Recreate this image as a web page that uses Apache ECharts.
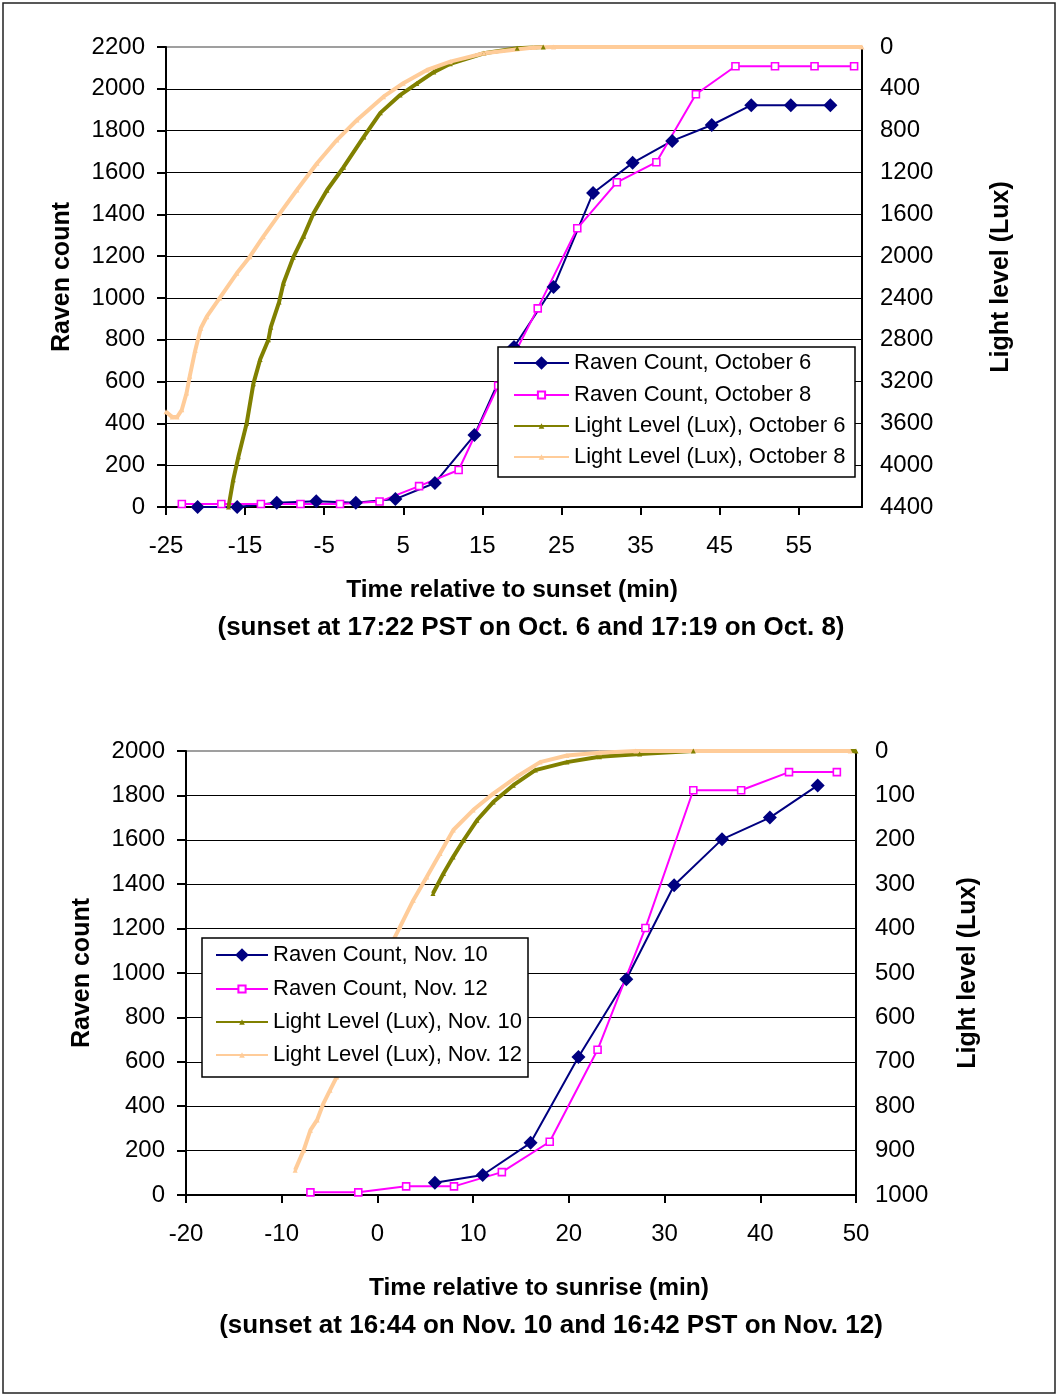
<!DOCTYPE html>
<html>
<head>
<meta charset="utf-8">
<script src="https://cdn.jsdelivr.net/npm/echarts@6/dist/echarts.min.js"></script>
<style>
html,body{margin:0;padding:0;background:#fff;}
#chart{width:1062px;height:1395px;}
</style>
</head>
<body>
<div id="chart"></div>
<script>
// ---------- Top chart (October, relative to sunset) ----------
const octTimes6 = [-21,-16,-11,-6,-1,4,9,14,19,24,29,34,39,44,49,54,59];
const ravenOct6 = [0,0,20,28,20,38,115,344,765,1052,1502,1646,1751,1827,1922,1922,1922];
const octTimes8 = [-23,-18,-13,-8,-3,2,7,12,17,22,27,32,37,42,47,52,57,62];
const ravenOct8 = [14,14,14,14,14,26,100,177,580,950,1333,1553,1649,1974,2108,2108,2108,2108];
const lightOct6Time = [-17.1,-16.5,-15.85,-14.8,-13.95,-13.1,-12.05,-11.75,-10.7,-10.15,-8.9,-7.6,-6.35,-4.65,-2.55,0.0,2.1,4.6,6.7,8.85,10.95,15.2,19.4,22.7];
const lightOct6 = [4400,4140,3920,3600,3220,2990,2800,2680,2440,2260,2010,1810,1590,1370,1150,860,630,460,350,240,160,60,12,0];
const lightOct8Time = [-25,-24.2,-23.6,-23,-22.4,-22,-21.3,-20.6,-19.85,-18.2,-16.05,-14.4,-12.7,-10.6,-8.45,-5.9,-3.4,-0.85,2.5,5.0,8.0,10.95,15.2,21.5,24,63];
const lightOct8 = [3490,3540,3540,3470,3310,3150,2900,2690,2580,2400,2165,2006,1814,1591,1368,1112,890,698,475,347,220,140,60,5,0,0];
const octLegendNames = ['Raven Count, October 6','Raven Count, October 8','Light Level (Lux), October 6','Light Level (Lux), October 8'];
const octXTitle = ['Time relative to sunset (min)', '(sunset at 17:22 PST on Oct. 6 and 17:19 on Oct. 8)'];

// ---------- Bottom chart (November) ----------
const novTimes10 = [6,11,16,21,26,31,36,41,46];
const ravenNov10 = [55,90,235,622,972,1395,1602,1700,1845];
const novTimes12 = [-7,-2,3,8,13,18,23,28,33,38,43,48];
const ravenNov12 = [12,12,39,39,103,240,654,1203,1823,1823,1905,1905];
const lightNov10Time = [5.8,6.9,7.9,9.0,10.4,12.1,14.2,16.5,19.8,23.2,27.4,33,50];
const lightNov10 = [321,276,239,201,156,115,77,43,25,13,7,0,0];
const lightNov12Time = [-8.6,-7.7,-7.0,-6.3,-5.65,-4.95,-4.25,1.66,2.36,3.75,5.15,6.54,7.93,10.0,12.1,14.55,17.0,19.8,23.2,27,49.4];
const lightNov12 = [944,899,854,831,794,764,734,426,396,336,284,231,178,133,96,58,25,10,4,0,0];
const novLegendNames = ['Raven Count, Nov. 10','Raven Count, Nov. 12','Light Level (Lux), Nov. 10','Light Level (Lux), Nov. 12'];
const novXTitle = ['Time relative to sunrise (min)', '(sunset at 16:44 on Nov. 10 and 16:42 PST on Nov. 12)'];

const FONT = '"Liberation Sans", Arial, sans-serif';
const NAVY = '#000080', MAGENTA = '#FF00FF', OLIVE = '#808000', PEACH = '#FFCC99';

function zip(xs, ys){ return xs.map((x,i)=>[x, ys[i]]); }
const plain = v => String(v);

const tickLabel = {fontSize:24, fontFamily:FONT, color:'#000', formatter:plain};
const nameStyle = {fontSize:25, fontWeight:'bold', fontFamily:FONT, color:'#000', lineHeight:38};
const blackLine = {show:true, onZero:false, lineStyle:{color:'#000', width:2}};
const outTick = len => ({show:true, inside:false, length:len, lineStyle:{color:'#000', width:2}});

function xTitleStyle(shiftA, shiftB){
  const base = {fontWeight:'bold', fontFamily:FONT, color:'#000', lineHeight:38};
  return Object.assign({}, base, {fontSize:25, rich:{
    a:Object.assign({}, base, {fontSize:24.5, padding:shiftA}),
    b:Object.assign({}, base, {fontSize:26, padding:shiftB})
  }});
}
const twoLine = t => '{a|' + t[0] + '}\n{b|' + t[1] + '}';

function ravenSeries(name, xi, yi, data, kind){
  if (kind === 'diamond') {
    return {name, type:'line', xAxisIndex:xi, yAxisIndex:yi, data, symbol:'diamond', symbolSize:14,
      lineStyle:{color:NAVY, width:2}, itemStyle:{color:NAVY}, z:3};
  }
  return {name, type:'line', xAxisIndex:xi, yAxisIndex:yi, data, symbol:'rect', symbolSize:7,
    lineStyle:{color:MAGENTA, width:2}, itemStyle:{color:'#fff', borderColor:MAGENTA, borderWidth:1.6}, z:3};
}
function lightSeries(name, xi, yi, data, color){
  return {name, type:'line', xAxisIndex:xi, yAxisIndex:yi, data, symbol:'triangle', symbolSize:5,
    lineStyle:{color, width:4}, itemStyle:{color}, z:4};
}

// one legend component per entry so each marker gets its own size
const iconHeights = [17, 9, 7, 7];
function legendSet(names, left, tops, itemWidth){
  return names.map((n, i) => ({
    orient:'vertical', left, top:tops[i] - Math.max(11, iconHeights[i]/2), padding:0,
    itemWidth, itemHeight:iconHeights[i], z:10,
    textStyle:{fontSize:22, fontFamily:FONT, color:'#000', lineHeight:22},
    data:[i >= 2 ? {name:n, lineStyle:{width:2}} : {name:n}]
  }));
}

const option = {
  animation:false,
  backgroundColor:'#fff',
  graphic:[
    {type:'rect', z:0, shape:{x:3,y:3,width:1052,height:1390}, style:{fill:null, stroke:'#222', lineWidth:1.5}, silent:true},
    {type:'rect', z:8, shape:{x:498,y:347,width:357,height:130}, style:{fill:'#fff', stroke:'#000', lineWidth:1.5}, silent:true},
    {type:'rect', z:8, shape:{x:202,y:938,width:326,height:139}, style:{fill:'#fff', stroke:'#000', lineWidth:1.5}, silent:true}
  ],
  grid:[
    {left:166, top:47, width:696, height:460, show:true, borderColor:'#808080', borderWidth:1.5, backgroundColor:'transparent'},
    {left:186, top:751, width:670, height:444, show:true, borderColor:'#808080', borderWidth:1.5, backgroundColor:'transparent'}
  ],
  xAxis:[
    {gridIndex:0, type:'value', min:-25, max:63, interval:10,
     axisLine:blackLine, axisTick:outTick(8),
     axisLabel:Object.assign({margin:27, showMaxLabel:false}, tickLabel), splitLine:{show:false},
     name:twoLine(octXTitle), nameLocation:'middle', nameGap:64,
     nameTextStyle:xTitleStyle([0,4,0,0],[0,0,0,34])},
    {gridIndex:1, type:'value', min:-20, max:50, interval:10,
     axisLine:blackLine, axisTick:outTick(8),
     axisLabel:Object.assign({margin:27}, tickLabel), splitLine:{show:false},
     name:twoLine(novXTitle), nameLocation:'middle', nameGap:74,
     nameTextStyle:xTitleStyle([0,0,0,36],[0,0,0,60])}
  ],
  yAxis:[
    {gridIndex:0, type:'value', min:0, max:2200, interval:200, position:'left',
     axisLine:blackLine, axisTick:outTick(9),
     axisLabel:Object.assign({margin:21}, tickLabel),
     splitLine:{show:true, showMaxLine:false, showMinLine:false, lineStyle:{color:'#000', width:1.2}},
     name:'Raven count', nameLocation:'middle', nameGap:83, nameTextStyle:nameStyle},
    {gridIndex:0, type:'value', min:0, max:4400, interval:400, position:'right', inverse:true,
     axisLine:blackLine, axisTick:{show:false},
     axisLabel:Object.assign({margin:18}, tickLabel), splitLine:{show:false},
     name:'Light level (Lux)', nameLocation:'middle', nameGap:120, nameTextStyle:nameStyle},
    {gridIndex:1, type:'value', min:0, max:2000, interval:200, position:'left',
     axisLine:blackLine, axisTick:outTick(9),
     axisLabel:Object.assign({margin:21}, tickLabel),
     splitLine:{show:true, showMaxLine:false, showMinLine:false, lineStyle:{color:'#000', width:1.2}},
     name:'Raven count', nameLocation:'middle', nameGap:83, nameTextStyle:nameStyle},
    {gridIndex:1, type:'value', min:0, max:1000, interval:100, position:'right', inverse:true,
     axisLine:blackLine, axisTick:{show:false},
     axisLabel:Object.assign({margin:19}, tickLabel), splitLine:{show:false},
     name:'Light level (Lux)', nameLocation:'middle', nameGap:93, nameTextStyle:nameStyle}
  ],
  legend: legendSet(octLegendNames, 513, [363,395,426,457], 55)
          .concat(legendSet(novLegendNames, 215, [955,989,1022,1055], 52)),
  series:[
    ravenSeries(octLegendNames[0], 0, 0, zip(octTimes6, ravenOct6), 'diamond'),
    ravenSeries(octLegendNames[1], 0, 0, zip(octTimes8, ravenOct8), 'rect'),
    lightSeries(octLegendNames[2], 0, 1, zip(lightOct6Time, lightOct6), OLIVE),
    lightSeries(octLegendNames[3], 0, 1, zip(lightOct8Time, lightOct8), PEACH),
    ravenSeries(novLegendNames[0], 1, 2, zip(novTimes10, ravenNov10), 'diamond'),
    ravenSeries(novLegendNames[1], 1, 2, zip(novTimes12, ravenNov12), 'rect'),
    lightSeries(novLegendNames[2], 1, 3, zip(lightNov10Time, lightNov10), OLIVE),
    lightSeries(novLegendNames[3], 1, 3, zip(lightNov12Time, lightNov12), PEACH)
  ]
};

const chart = echarts.init(document.getElementById('chart'), null, {renderer:'canvas'});
chart.setOption(option);
</script>
</body>
</html>
